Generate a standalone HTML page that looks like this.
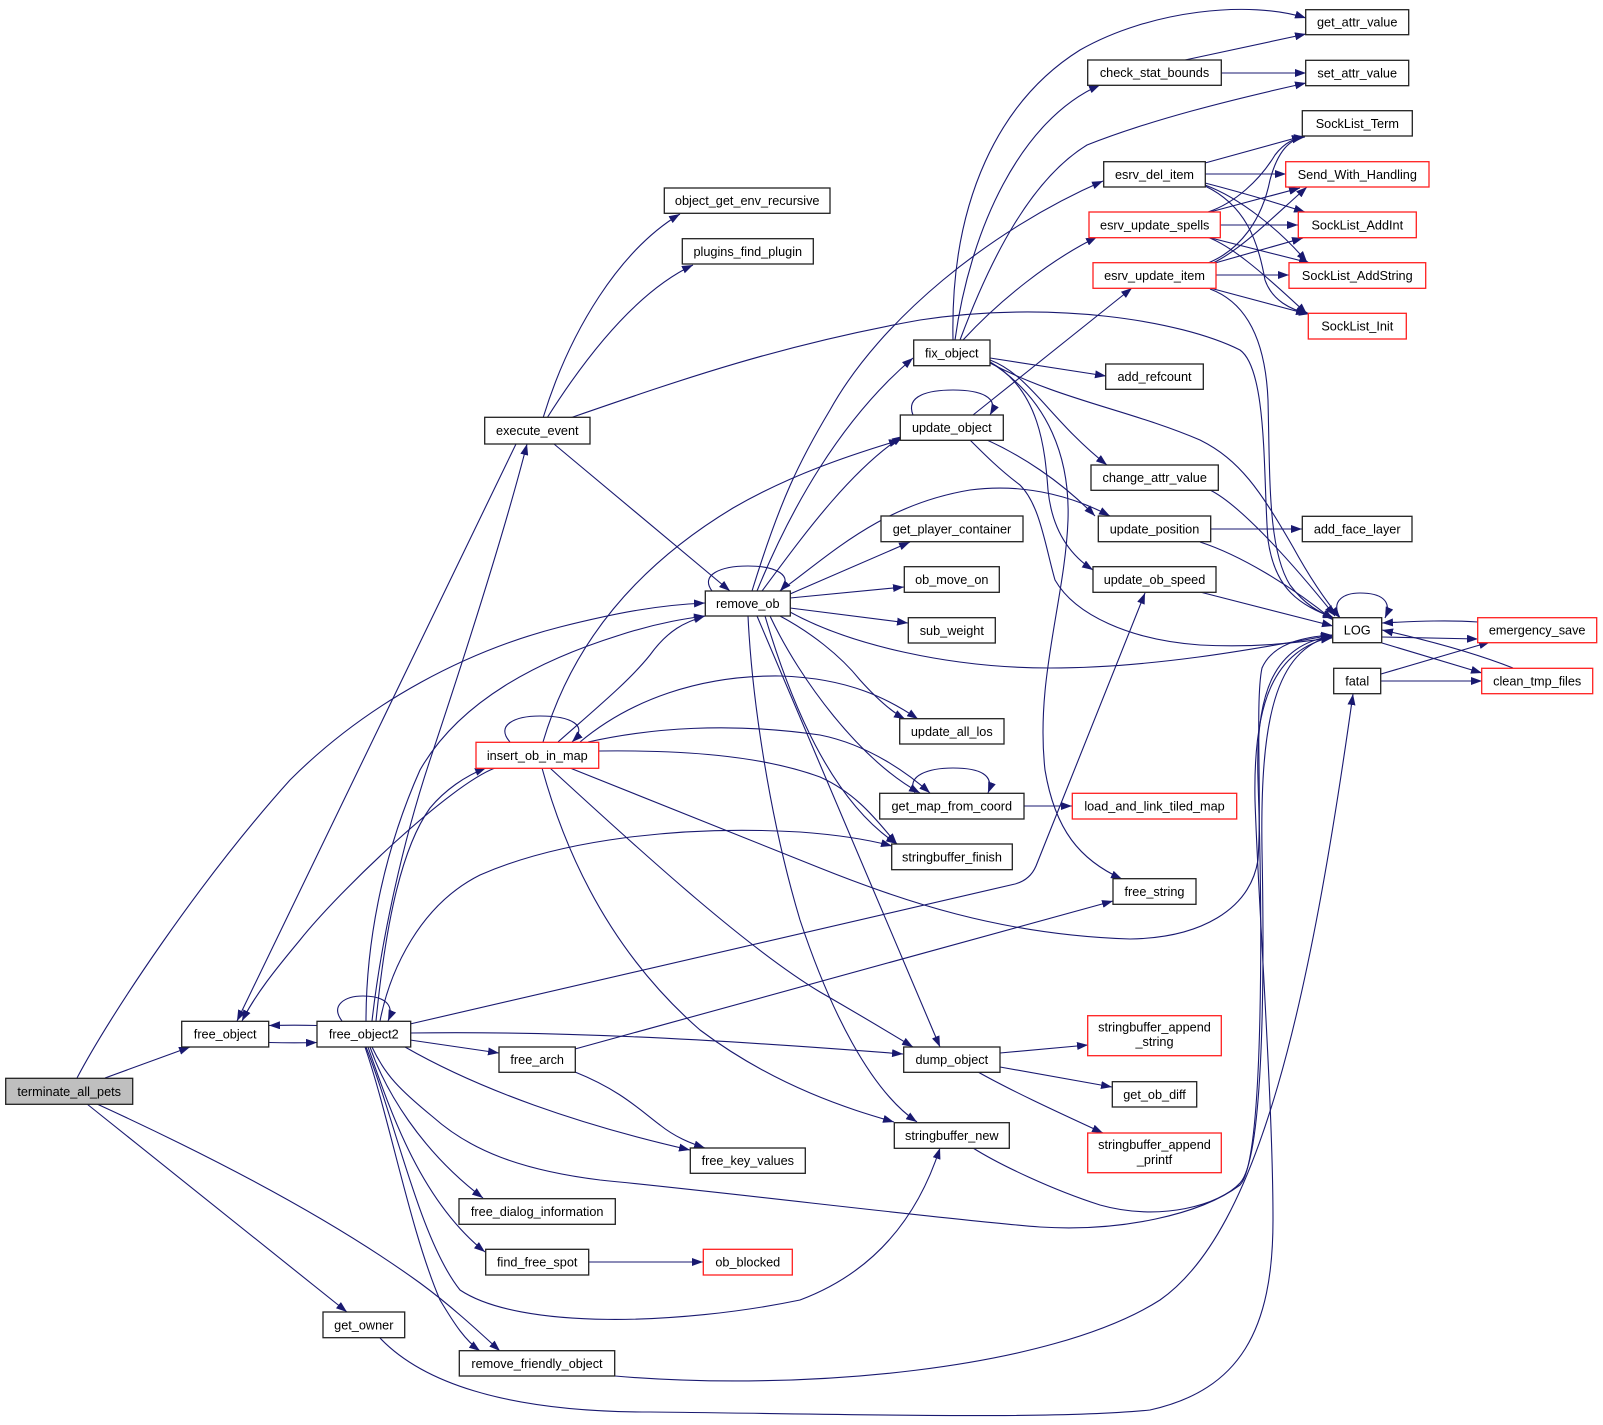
<!DOCTYPE html>
<html><head><meta charset="utf-8"><style>
html,body{margin:0;padding:0;background:#fff;}
svg{display:block;}
.e{fill:none;stroke:#191970;stroke-width:1.1;marker-end:url(#a);}
.n{fill:#fff;stroke:#222;stroke-width:1.3;}
.r{fill:#fff;stroke:#ff2020;stroke-width:1.3;}
text{font-family:"Liberation Sans",Arial,sans-serif;font-size:12.7px;fill:#000;text-anchor:middle;}
</style></head><body>
<svg width="1603" height="1425" viewBox="0 0 1603 1425" xmlns="http://www.w3.org/2000/svg">
<defs><marker id="a" markerWidth="11" markerHeight="8" refX="11" refY="4" orient="auto" markerUnits="userSpaceOnUse"><path d="M0,0L11,4L0,8z" fill="#191970"/></marker></defs>
<g>
<path class="e" d="M105,1078 L190,1047"/>
<path class="e" d="M77,1078 C110,1015 200,880 290,780 C370,700 470,650 560,627 C620,612 660,605 705,603"/>
<path class="e" d="M87,1104 L347,1312"/>
<path class="e" d="M97,1104 C230,1165 340,1225 420,1283 C450,1305 475,1328 500,1351"/>
<path class="e" d="M269,1042.5 C290,1043 300,1043 317,1042.5"/>
<path class="e" d="M317,1025.5 C300,1025 290,1025 269,1025.5"/>
<path class="e" d="M516,444 L237,1021"/>
<path class="e" d="M495,768 C450,785 340,890 300,940 C275,970 255,995 242,1021"/>
<path class="e" d="M372,1021 C380,950 400,850 430,760 C470,640 505,530 527,444"/>
<path class="e" d="M366,1021 C366,950 380,860 420,770 C460,700 540,660 620,635 C660,622 690,618 705,616"/>
<path class="e" d="M376,1021 C385,930 400,850 430,808 C445,790 465,776 486,768"/>
<path class="e" d="M380,1021 C390,970 420,905 480,875 C560,840 680,825 800,832 C840,835 870,840 892,846"/>
<path class="e" d="M342,1021 C330,1005 345,996 363,996 C385,996 395,1005 388,1021"/>
<path class="e" d="M410,1024 L1015,884 Q1030,880 1036,866 L1145,593"/>
<path class="e" d="M410,1033 C550,1031 700,1038 903,1054"/>
<path class="e" d="M410,1040 L499,1053"/>
<path class="e" d="M405,1047 C480,1090 580,1125 690,1150"/>
<path class="e" d="M372,1047 C385,1075 400,1090 433,1117 C470,1150 520,1170 600,1180 C750,1195 950,1220 1040,1227 C1120,1232 1200,1215 1240,1185 C1265,1160 1262,900 1258,780 C1255,690 1275,645 1332,636"/>
<path class="e" d="M370,1047 C385,1090 420,1150 483,1198"/>
<path class="e" d="M368,1047 C390,1110 420,1200 485,1252"/>
<path class="e" d="M366,1047 C395,1120 420,1240 460,1290 C520,1330 680,1325 800,1300 C880,1270 920,1210 940,1148"/>
<path class="e" d="M365,1047 C390,1120 410,1230 440,1300 C455,1325 465,1340 480,1351"/>
<path class="e" d="M380,1338 C420,1380 500,1412 650,1412 C850,1414 1050,1420 1150,1410 C1240,1390 1273,1330 1273,1220 C1273,1100 1258,900 1255,800 C1253,700 1275,650 1332,637"/>
<path class="e" d="M615,1376 C800,1392 1050,1370 1160,1300 C1260,1230 1310,1000 1353,694"/>
<path class="e" d="M543,418 C570,330 620,250 680,214"/>
<path class="e" d="M547,418 C590,350 640,290 693,265"/>
<path class="e" d="M570,418 C680,380 780,345 920,320 C1050,300 1180,320 1240,350 C1268,370 1263,480 1268,540 C1275,590 1300,605 1334,618"/>
<path class="e" d="M554,444 L730,591"/>
<path class="e" d="M712,591 C700,575 720,566 748,566 C775,566 795,575 780,591"/>
<path class="e" d="M752,591 C780,500 800,460 830,410 C880,320 990,230 1103,181"/>
<path class="e" d="M757,591 C790,510 840,420 913,358"/>
<path class="e" d="M762,591 C800,540 850,470 903,436"/>
<path class="e" d="M780,591 C830,555 880,505 970,490 C1030,482 1080,500 1110,516"/>
<path class="e" d="M790,594 L910,542"/>
<path class="e" d="M790,598 L904,587"/>
<path class="e" d="M790,608 L908,623"/>
<path class="e" d="M790,612 C850,645 950,668 1050,668 C1150,668 1250,650 1332,635"/>
<path class="e" d="M780,616 C810,632 840,655 860,680 C878,700 892,712 905,719"/>
<path class="e" d="M770,616 C800,680 860,760 920,793"/>
<path class="e" d="M765,616 C790,700 830,800 897,844"/>
<path class="e" d="M757,616 L940,1047"/>
<path class="e" d="M748,616 C752,700 770,820 800,920 C830,1010 870,1090 917,1122"/>
<path class="e" d="M510,742 C495,725 515,716 540,716 C570,716 590,725 572,742"/>
<path class="e" d="M558,742 C600,705 630,680 650,655 C668,630 685,622 705,616"/>
<path class="e" d="M543,742 C570,650 630,570 733,508 C790,475 850,455 900,440"/>
<path class="e" d="M580,742 C630,700 700,675 780,676 C850,678 890,700 918,719"/>
<path class="e" d="M588,742 C650,728 730,722 820,735 C870,745 910,775 930,793"/>
<path class="e" d="M599,751 C680,750 760,755 820,777 C860,795 880,825 897,844"/>
<path class="e" d="M570,768 L820,868 C900,900 1000,935 1130,939 C1200,938 1250,910 1258,860 C1262,800 1255,700 1262,668 C1272,645 1300,637 1332,635"/>
<path class="e" d="M550,768 C650,860 750,950 820,992 C860,1015 890,1033 913,1047"/>
<path class="e" d="M542,768 C570,870 620,960 700,1030 C780,1090 860,1112 894,1122"/>
<path class="e" d="M953,340 C950,200 1000,100 1080,50 C1150,10 1250,0 1306,18"/>
<path class="e" d="M955,340 C970,230 1020,120 1100,85"/>
<path class="e" d="M960,340 C990,260 1030,180 1087,145 C1150,120 1230,100 1306,83"/>
<path class="e" d="M963,340 C1000,300 1050,260 1097,237"/>
<path class="e" d="M990,358 L1106,376"/>
<path class="e" d="M990,360 C1030,375 1050,420 1107,465"/>
<path class="e" d="M990,362 C1040,390 1045,450 1048,490 C1052,530 1070,555 1093,570"/>
<path class="e" d="M990,362 C1050,400 1070,460 1068,520 C1065,600 1035,680 1045,770 C1055,830 1080,860 1122,879"/>
<path class="e" d="M990,363 C1060,400 1130,410 1200,440 C1240,460 1260,490 1293,547 C1310,578 1325,600 1340,618"/>
<path class="e" d="M913,415 C905,395 930,390 953,390 C980,390 1000,397 990,415"/>
<path class="e" d="M973,415 L1132,288"/>
<path class="e" d="M987,440 C1020,455 1060,480 1095,516"/>
<path class="e" d="M970,440 C985,455 1000,470 1020,485 C1040,505 1045,545 1055,580 C1075,615 1130,640 1200,645 C1260,648 1300,642 1332,638"/>
<path class="e" d="M1205,163 L1303,136"/>
<path class="e" d="M1205,174 L1286,174"/>
<path class="e" d="M1205,183 C1240,192 1280,204 1305,212"/>
<path class="e" d="M1205,185 C1240,198 1280,230 1307,262"/>
<path class="e" d="M1205,186 C1245,205 1258,240 1265,280 C1272,300 1290,310 1310,314"/>
<path class="e" d="M1208,212 C1235,203 1260,180 1275,155 C1285,142 1295,138 1305,137"/>
<path class="e" d="M1210,212 L1300,188"/>
<path class="e" d="M1220,225 L1298,225"/>
<path class="e" d="M1207,237 L1310,263"/>
<path class="e" d="M1207,237 C1230,245 1260,270 1307,314"/>
<path class="e" d="M1208,263 C1240,250 1262,220 1270,180 C1278,150 1290,140 1303,137"/>
<path class="e" d="M1213,263 C1240,250 1270,220 1307,187"/>
<path class="e" d="M1215,263 L1303,238"/>
<path class="e" d="M1216,275 L1289,275"/>
<path class="e" d="M1210,288 L1307,314"/>
<path class="e" d="M1210,289 C1240,300 1265,330 1268,400 C1270,480 1268,550 1290,585 C1305,605 1320,613 1334,618"/>
<path class="e" d="M1185,60 L1306,34"/>
<path class="e" d="M1221,73 L1306,73"/>
<path class="e" d="M1210,490 C1240,505 1290,560 1335,616"/>
<path class="e" d="M1211,529 L1302,529"/>
<path class="e" d="M1200,542 C1240,555 1290,585 1333,620"/>
<path class="e" d="M1200,592 L1333,626"/>
<path class="e" d="M915,793 C905,775 930,768 953,768 C980,768 995,775 988,793"/>
<path class="e" d="M1024,806 L1072,806"/>
<path class="e" d="M1340,618 C1330,600 1345,593 1360,593 C1380,593 1393,600 1385,618"/>
<path class="e" d="M1382,637 L1478,639"/>
<path class="e" d="M1478,622 C1450,620 1420,621 1382,623"/>
<path class="e" d="M1382,643 L1482,673"/>
<path class="e" d="M1513,668 C1480,655 1440,643 1382,630"/>
<path class="e" d="M1381,674 L1490,642"/>
<path class="e" d="M1381,681 L1482,681"/>
<path class="e" d="M1000,1053 L1088,1045"/>
<path class="e" d="M1000,1067 L1112,1087"/>
<path class="e" d="M978,1072 C1010,1090 1053,1110 1103,1133"/>
<path class="e" d="M973,1148 C1000,1165 1053,1190 1100,1205 C1160,1222 1220,1205 1240,1183 C1262,1160 1265,1000 1262,850 C1260,720 1275,650 1332,636"/>
<path class="e" d="M575,1049 L1113,901"/>
<path class="e" d="M575,1072 C620,1090 640,1110 660,1125 C675,1137 690,1143 705,1148"/>
<path class="e" d="M589,1262 L703,1262"/>
</g>
<g>
<rect x="5.7" y="1078.3" width="127" height="26" fill="#bfbfbf" stroke="#222" stroke-width="1.3"/><text x="69.2" y="1095.8">terminate_all_pets</text>
<rect class="n" x="181.7" y="1021.3" width="87" height="25.7"/><text x="225.2" y="1038.7">free_object</text>
<rect class="n" x="317" y="1021.3" width="93.7" height="25.7"/><text x="363.8" y="1038.7">free_object2</text>
<rect class="n" x="323" y="1312" width="81.7" height="25.7"/><text x="363.8" y="1329.4">get_owner</text>
<rect class="n" x="484.7" y="417.3" width="105.3" height="26.7"/><text x="537.3" y="435.2">execute_event</text>
<rect class="n" x="664.3" y="188" width="165.7" height="25.3"/><text x="747.2" y="205.2">object_get_env_recursive</text>
<rect class="n" x="682.3" y="238.7" width="131" height="25.3"/><text x="747.8" y="255.8">plugins_find_plugin</text>
<rect class="n" x="705.3" y="591" width="85" height="25"/><text x="747.8" y="608">remove_ob</text>
<rect class="r" x="476" y="742.3" width="122.7" height="26"/><text x="537.3" y="759.8">insert_ob_in_map</text>
<rect class="n" x="1087.7" y="60" width="133.6" height="25.3"/><text x="1154.5" y="77.2">check_stat_bounds</text>
<rect class="n" x="1103.7" y="161.7" width="101.6" height="25.3"/><text x="1154.5" y="178.8">esrv_del_item</text>
<rect class="r" x="1089" y="212" width="131.3" height="25.7"/><text x="1154.7" y="229.4">esrv_update_spells</text>
<rect class="r" x="1093" y="262.7" width="123" height="25.6"/><text x="1154.5" y="280">esrv_update_item</text>
<rect class="n" x="913.7" y="340" width="76.3" height="25.7"/><text x="951.8" y="357.4">fix_object</text>
<rect class="n" x="1105.7" y="364" width="97.6" height="25.3"/><text x="1154.5" y="381.2">add_refcount</text>
<rect class="n" x="900.3" y="415" width="103" height="25.3"/><text x="951.8" y="432.2">update_object</text>
<rect class="n" x="1091" y="465" width="127.3" height="25.3"/><text x="1154.7" y="482.2">change_attr_value</text>
<rect class="n" x="1305.7" y="9.7" width="103" height="25"/><text x="1357.2" y="26.7">get_attr_value</text>
<rect class="n" x="1305.7" y="60.3" width="103" height="25.4"/><text x="1357.2" y="77.5">set_attr_value</text>
<rect class="n" x="1302.3" y="110.7" width="110" height="25.3"/><text x="1357.3" y="127.9">SockList_Term</text>
<rect class="r" x="1285.7" y="161.7" width="143.3" height="25.3"/><text x="1357.3" y="178.8">Send_With_Handling</text>
<rect class="r" x="1298.3" y="212" width="118" height="25.7"/><text x="1357.3" y="229.4">SockList_AddInt</text>
<rect class="r" x="1289" y="262.7" width="136.7" height="25.6"/><text x="1357.3" y="280">SockList_AddString</text>
<rect class="r" x="1308.3" y="313.3" width="98" height="25.7"/><text x="1357.3" y="330.7">SockList_Init</text>
<rect class="n" x="881" y="516" width="142" height="25.7"/><text x="952" y="533.4">get_player_container</text>
<rect class="n" x="904.3" y="566.7" width="95" height="25.6"/><text x="951.8" y="584">ob_move_on</text>
<rect class="n" x="908.3" y="617.7" width="87" height="25.3"/><text x="951.8" y="634.8">sub_weight</text>
<rect class="n" x="899.7" y="718.7" width="104.3" height="25.3"/><text x="951.8" y="735.8">update_all_los</text>
<rect class="n" x="879.7" y="793.3" width="144.3" height="25.7"/><text x="951.8" y="810.7">get_map_from_coord</text>
<rect class="n" x="891.7" y="844" width="120.6" height="25.7"/><text x="952" y="861.4">stringbuffer_finish</text>
<rect class="n" x="1098.3" y="516" width="112.4" height="25.7"/><text x="1154.5" y="533.4">update_position</text>
<rect class="n" x="1093" y="566.7" width="123" height="25.6"/><text x="1154.5" y="584">update_ob_speed</text>
<rect class="r" x="1072.3" y="793.3" width="164.4" height="25.7"/><text x="1154.5" y="810.7">load_and_link_tiled_map</text>
<rect class="n" x="1113" y="878.7" width="83" height="25.6"/><text x="1154.5" y="896">free_string</text>
<rect class="n" x="1302.3" y="516.3" width="109.7" height="25.4"/><text x="1357.2" y="533.5">add_face_layer</text>
<rect class="n" x="1332.7" y="617.7" width="49" height="25"/><text x="1357.2" y="634.7">LOG</text>
<rect class="r" x="1477.7" y="617.7" width="119" height="25"/><text x="1537.2" y="634.7">emergency_save</text>
<rect class="n" x="1333.7" y="668.3" width="47" height="25.4"/><text x="1357.2" y="685.5">fatal</text>
<rect class="r" x="1481.7" y="668.3" width="111" height="25.4"/><text x="1537.2" y="685.5">clean_tmp_files</text>
<rect class="n" x="903.7" y="1047" width="96.3" height="25.3"/><text x="951.8" y="1064.2">dump_object</text>
<rect class="r" x="1087.7" y="1015.7" width="133.6" height="40"/><text x="1154.5" y="1031.5">stringbuffer_append</text><text x="1154.5" y="1046">_string</text>
<rect class="n" x="1112.3" y="1081.7" width="84.4" height="25.3"/><text x="1154.5" y="1098.8">get_ob_diff</text>
<rect class="r" x="1087.7" y="1133" width="133.6" height="39.7"/><text x="1154.5" y="1149">stringbuffer_append</text><text x="1154.5" y="1164">_printf</text>
<rect class="n" x="894.3" y="1122.7" width="115" height="25.6"/><text x="951.8" y="1140">stringbuffer_new</text>
<rect class="n" x="499" y="1047" width="76.3" height="25.3"/><text x="537.2" y="1064.2">free_arch</text>
<rect class="n" x="690.3" y="1148" width="115" height="25.3"/><text x="747.8" y="1165.2">free_key_values</text>
<rect class="n" x="459" y="1198.7" width="156.3" height="25.6"/><text x="537.2" y="1216">free_dialog_information</text>
<rect class="n" x="485.7" y="1249.3" width="103" height="25.7"/><text x="537.2" y="1266.7">find_free_spot</text>
<rect class="r" x="703.3" y="1249.3" width="89" height="25.7"/><text x="747.8" y="1266.7">ob_blocked</text>
<rect class="n" x="459.3" y="1350.7" width="155.4" height="25.3"/><text x="537" y="1367.9">remove_friendly_object</text>
</g>
</svg>
</body></html>
